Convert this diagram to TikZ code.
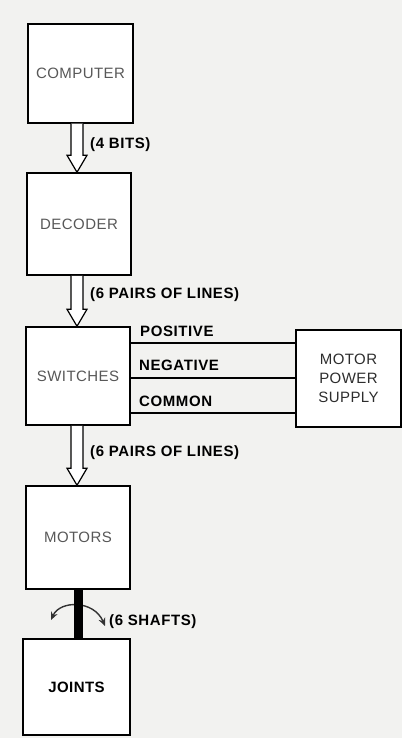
\documentclass[tikz,border=0pt]{standalone}
\usepackage{fontspec}
\setmainfont{Liberation Sans}
\usetikzlibrary{calc,arrows.meta}
\definecolor{paper}{RGB}{242,242,240}
\definecolor{boxtext}{RGB}{88,88,88}
\definecolor{darktext}{RGB}{45,45,45}
\tikzset{
  blk/.style={draw=black, line width=1.5pt, fill=white, inner sep=0pt, text=boxtext,
    font=\fontsize{15}{19}\selectfont\addfontfeatures{LetterSpace=3}},
  lbl/.style={inner sep=0pt, text=black,
    font=\fontsize{15}{19}\selectfont\bfseries\addfontfeatures{LetterSpace=4}},
  hollow/.style={draw=black, line width=1.2pt, fill=white, line join=miter},
  wire/.style={draw=black, line width=1.2pt},
  shaft/.style={draw=black, line width=9pt},
  turn/.style={draw=black!80, line width=1.4pt,
    {Stealth[length=8pt,width=7pt]}-{Stealth[length=8pt,width=7pt]}},
}
\newcommand{\hollowarr}[2]{%
  \draw[hollow] let \p1=(#1.south), \p2=(#2.north) in
   (71pt,\y1) -- (71pt,\y2+17pt) -- (67pt,\y2+17pt) -- (77pt,\y2) --
   (87pt,\y2+17pt) -- (83pt,\y2+17pt) -- (83pt,\y1);}
\begin{document}
\begin{tikzpicture}[x=1pt,y=-1pt]
\useasboundingbox[fill=paper] (0,0) rectangle (402,738);
% boxes
\node[blk, minimum width=105pt, minimum height=99pt] (comp) at (80.5,73.5) {COMPUTER};
\node[blk, minimum width=104pt, minimum height=102pt] (dec) at (79,224) {DECODER};
\node[blk, minimum width=104pt, minimum height=98pt] (sw) at (78,376) {SWITCHES};
\node[blk, minimum width=105pt, minimum height=97pt, text=darktext, align=center] (mps) at (348.5,378.5) {MOTOR\\POWER\\SUPPLY};
\node[blk, minimum width=104pt, minimum height=103pt] (mot) at (78,537.5) {MOTORS};
\node[blk, minimum width=107pt, minimum height=96pt, text=black,
  font=\fontsize{15}{19}\selectfont\bfseries\addfontfeatures{LetterSpace=3}] (joi) at (76.5,687) {JOINTS};
% hollow arrows
\hollowarr{comp}{dec}
\hollowarr{dec}{sw}
\hollowarr{sw}{mot}
% arrow labels
\node[lbl, anchor=west] (l1) at (90,145) {(4 BITS)};
\node[lbl, anchor=west] (l2) at (90,295) {(6 PAIRS OF LINES)};
\node[lbl, anchor=west] (l3) at (90,453) {(6 PAIRS OF LINES)};
% supply wires
\draw[wire] (sw.east |- 0,343) -- (mps.west |- 0,343);
\draw[wire] (sw.east |- 0,378) -- (mps.west |- 0,378);
\draw[wire] (sw.east |- 0,413) -- (mps.west |- 0,413);
\node[lbl, anchor=west] (pos) at (140,331) {POSITIVE};
\node[lbl, anchor=west] (neg) at (139,365) {NEGATIVE};
\node[lbl, anchor=west] (com) at (139,401) {COMMON};
% shafts
\coordinate (rl) at (51,620);
\coordinate (rr) at (105,626);
\draw[turn] (rl) .. controls (60,600) and (94,600) .. (rr);
\draw[shaft] (mot.south) -- (mot.south |- joi.north);
\node[lbl, anchor=west] (l4) at (109,622) {(6 SHAFTS)};
\end{tikzpicture}
\end{document}
